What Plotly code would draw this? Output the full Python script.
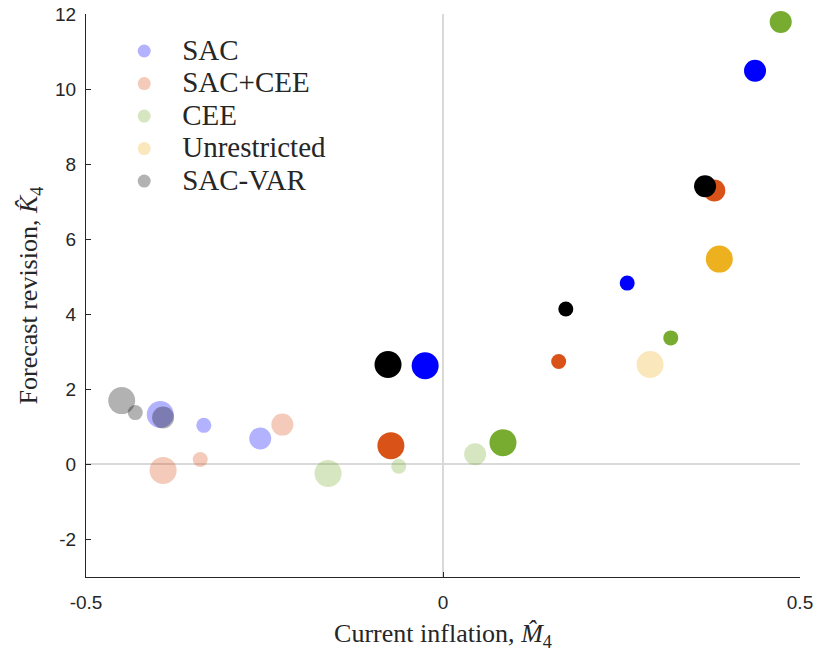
import plotly.graph_objects as go

# Series data (x = current inflation M4, y = forecast revision K4), sizes: L/M/S
series_names = ["SAC", "SAC+CEE", "CEE", "Unrestricted", "SAC-VAR"]
series_colors = ["#0000FF", "#D95319", "#77AC30", "#EDB120", "#000000"]

# light (transparent) points
light_x = {
    "SAC": [-0.396, -0.335, -0.256],
    "SAC+CEE": [-0.392, -0.340, -0.225],
    "CEE": [-0.161, -0.062, 0.045],
    "Unrestricted": [0.290],
    "SAC-VAR": [-0.450, -0.431, -0.392],
}
light_y = {
    "SAC": [1.33, 1.04, 0.69],
    "SAC+CEE": [-0.16, 0.13, 1.06],
    "CEE": [-0.24, -0.05, 0.27],
    "Unrestricted": [2.66],
    "SAC-VAR": [1.70, 1.38, 1.25],
}
light_size = {
    "SAC": ["L", "S", "M"],
    "SAC+CEE": ["L", "S", "M"],
    "CEE": ["L", "S", "M"],
    "Unrestricted": ["L"],
    "SAC-VAR": ["L", "S", "M"],
}

# solid points
dark_x = {
    "SAC": [-0.025, 0.258, 0.437],
    "SAC+CEE": [-0.073, 0.162, 0.380],
    "CEE": [0.084, 0.319, 0.473],
    "Unrestricted": [0.387],
    "SAC-VAR": [-0.077, 0.172, 0.367],
}
dark_y = {
    "SAC": [2.63, 4.83, 10.49],
    "SAC+CEE": [0.50, 2.74, 7.30],
    "CEE": [0.58, 3.37, 11.79],
    "Unrestricted": [5.47],
    "SAC-VAR": [2.66, 4.14, 7.41],
}
dark_size = {
    "SAC": ["L", "S", "M"],
    "SAC+CEE": ["L", "S", "M"],
    "CEE": ["L", "S", "M"],
    "Unrestricted": ["L"],
    "SAC-VAR": ["L", "S", "M"],
}

size_px = {"L": 27, "M": 22, "S": 15}
light_opacity = 0.3

x_ticks = [-0.5, 0, 0.5]
x_ticklabels = ["-0.5", "0", "0.5"]
y_ticks = [-2, 0, 2, 4, 6, 8, 10, 12]
y_ticklabels = ["-2", "0", "2", "4", "6", "8", "10", "12"]

fig = go.Figure()

for name, col in zip(series_names, series_colors):
    fig.add_trace(go.Scatter(
        x=light_x[name], y=light_y[name], mode="markers",
        marker=dict(color=col, size=[size_px[s] for s in light_size[name]],
                    opacity=light_opacity, line=dict(width=0)),
        cliponaxis=False, showlegend=False, hoverinfo="skip"))

for name, col in zip(series_names, series_colors):
    fig.add_trace(go.Scatter(
        x=dark_x[name], y=dark_y[name], mode="markers",
        marker=dict(color=col, size=[size_px[s] for s in dark_size[name]],
                    opacity=1, line=dict(width=0)),
        cliponaxis=False, showlegend=False, hoverinfo="skip"))

# legend entries
for name, col in zip(series_names, series_colors):
    fig.add_trace(go.Scatter(
        x=[None], y=[None], mode="markers",
        name=f"<span style='font-size:29px'>{name}</span>",
        marker=dict(color=col, size=13, opacity=light_opacity, line=dict(width=0)),
        showlegend=True))

axis_common = dict(
    showline=True, linecolor="#262626", linewidth=1,
    ticks="inside", ticklen=5, tickcolor="#262626",
    tickfont=dict(family="Liberation Sans, Arial, sans-serif", size=19, color="#262626"),
    showgrid=False, zeroline=True, zerolinecolor="#d9d9d9", zerolinewidth=2,
    mirror=False, automargin=False,
)

title_font = dict(family="Liberation Serif, serif", size=26, color="#262626")

fig.update_layout(
    width=820, height=652,
    margin=dict(l=86, r=20, t=14, b=75),
    paper_bgcolor="white", plot_bgcolor="white",
    xaxis=dict(range=[-0.5, 0.5], tickvals=x_ticks, ticktext=x_ticklabels,
               ticklabelstandoff=8,
               title=dict(text="Current inflation, <i>M\u0302</i><sub>4</sub>",
                          font=title_font, standoff=12),
               **axis_common),
    yaxis=dict(range=[-3, 12], tickvals=y_ticks, ticktext=y_ticklabels,
               ticklabelstandoff=5,
               title=dict(text="Forecast revision, <i>K\u0302</i><sub>4</sub>",
                          font=title_font, standoff=9),
               **axis_common),
    legend=dict(x=0.0283, y=0.972, xanchor="left", yanchor="top",
                bgcolor="rgba(0,0,0,0)", borderwidth=0,
                font=dict(family="Liberation Serif, serif", size=22.7, color="#262626"),
                itemwidth=66),
)

fig.write_html("out.html")
